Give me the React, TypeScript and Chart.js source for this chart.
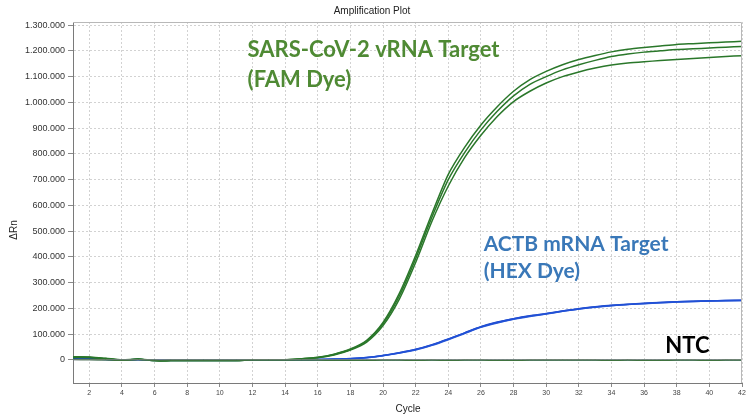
import React, { useEffect, useRef } from 'react';
import { Chart, registerables } from 'chart.js';

Chart.register(...registerables);

const cycles = [1, 2, 3, 4, 5, 6, 7, 8, 9, 10, 11, 12, 13, 14, 15, 16, 17, 18, 19, 20, 21, 22, 23, 24, 25, 26, 27, 28, 29, 30, 31, 32, 33, 34, 35, 36, 37, 38, 39, 40, 41, 42];

const famRep1 = [12000, 11000, 6000, 0, 3000, -3000, -3000, -3000, -3000, -3000, -3000, -1000, -1000, 0, 4000, 10000, 22000, 42000, 76000, 145000, 258000, 405000, 568000, 720000, 825000, 912000, 983000, 1043000, 1088000, 1120000, 1146000, 1166000, 1182000, 1196000, 1206000, 1213000, 1219000, 1225000, 1228000, 1231000, 1234000, 1237000];
const famRep2 = [11000, 10000, 5000, -1000, 2000, -3000, -3000, -3000, -3000, -3000, -3000, -1000, -1000, 0, 4000, 9000, 21000, 40000, 73000, 140000, 248000, 393000, 555000, 700000, 805000, 893000, 965000, 1025000, 1070000, 1100000, 1126000, 1146000, 1163000, 1178000, 1188000, 1195000, 1200000, 1205000, 1208000, 1211000, 1214000, 1217000];
const famRep3 = [10000, 9000, 4000, -1000, 2000, -3000, -3000, -3000, -3000, -3000, -3000, -1000, -1000, 0, 3000, 8000, 19000, 38000, 69000, 133000, 236000, 378000, 538000, 675000, 785000, 872000, 945000, 1003000, 1043000, 1075000, 1100000, 1118000, 1133000, 1145000, 1153000, 1158000, 1162000, 1166000, 1170000, 1174000, 1178000, 1181000];

const hexRep1 = [4000, 4000, 2000, 0, 1000, -2000, -2000, -2000, -2000, -2000, -2000, -1000, -1000, -1000, 0, 1000, 2000, 4000, 9000, 17000, 27000, 40000, 58000, 80000, 104000, 128000, 145000, 159000, 170000, 179000, 189000, 198000, 205000, 211000, 215000, 219000, 222000, 225000, 227000, 229000, 230000, 231000];
const hexRep2 = [3000, 3000, 1000, -1000, 0, -2000, -2000, -2000, -2000, -2000, -2000, -1000, -1000, -1000, 0, 1000, 2000, 4000, 8000, 16000, 26000, 38000, 56000, 78000, 102000, 126000, 143000, 157000, 168000, 178000, 188000, 197000, 204000, 210000, 215000, 218000, 221000, 224000, 226000, 228000, 229000, 230000];
const hexRep3 = [5000, 4000, 2000, 0, 1000, -1000, -2000, -2000, -2000, -2000, -2000, -1000, -1000, 0, 0, 1000, 3000, 5000, 9000, 17000, 28000, 41000, 59000, 81000, 105000, 129000, 147000, 160000, 171000, 180000, 190000, 199000, 206000, 212000, 216000, 220000, 223000, 226000, 228000, 229000, 231000, 232000];

const ntcFam = [2000, 1000, 0, -2000, 1000, -2000, -2000, -2000, -2000, -2000, -2000, -1000, -1000, -1000, -1000, -1000, -2000, -2000, -2000, -1000, -1000, -2000, -1000, -2000, -1000, -1000, -2000, -2000, -1000, -1000, -1000, -1000, -1000, -2000, -1000, -2000, -2000, -1000, -1000, -2000, -1000, -1000];
const ntcHex = [1000, 1000, 0, -1000, 0, -1000, -1000, -1000, -1000, -1000, -1000, -1000, -1000, -1000, -1000, -1000, -1000, -1000, -1000, -1000, -1000, -1000, -1000, -1000, -1000, -1000, -1000, -1000, -1000, -1000, -1000, -1000, -1000, -1000, -1000, -1000, -1000, -1000, -1000, -1000, -1000, -1000];
const threshold = [0, 0, 0, 0, 0, 0, 0, 0, 0, 0, 0, 0, 0, 0, 0, 0, 0, 0, 0, 0, 0, 0, 0, 0, 0, 0, 0, 0, 0, 0, 0, 0, 0, 0, 0, 0, 0, 0, 0, 0, 0, 0];

const xTickValues = [2, 4, 6, 8, 10, 12, 14, 16, 18, 20, 22, 24, 26, 28, 30, 32, 34, 36, 38, 40, 42];
const yTickValues = [0, 100000, 200000, 300000, 400000, 500000, 600000, 700000, 800000, 900000, 1000000, 1100000, 1200000, 1300000];

const chartTitle = 'Amplification Plot';
const xTitle = 'Cycle';
const yTitle = 'ΔRn';

const famLabelLines = ['SARS-CoV-2 vRNA Target', '(FAM Dye)'];
const hexLabelLines = ['ACTB mRNA Target', '(HEX Dye)'];
const ntcLabel = 'NTC';

const fmt = (v: number) => {
  const s = Math.abs(v).toString().replace(/\B(?=(\d{3})+(?!\d))/g, '.');
  return v < 0 ? '-' + s : s;
};

const GREEN = '#2a772a';
const BLUE = '#2150d6';

export default function App() {
  const ref = useRef<HTMLCanvasElement | null>(null);
  useEffect(() => {
    if (!ref.current) return;
    const toPts = (arr: number[]) => cycles.map((c, i) => ({ x: c, y: arr[i] }));
    const line = (data: number[], color: string, width: number) => ({
      data: toPts(data),
      borderColor: color,
      borderWidth: width,
      pointRadius: 0,
      tension: 0.25,
      fill: false,
    });

    const overlay = {
      id: 'overlay',
      afterDraw(chart: any) {
        const { ctx, chartArea: a, scales } = chart;
        const xs = scales.x;
        const ys = scales.y;
        ctx.save();
        // frame
        ctx.lineWidth = 1;
        ctx.strokeStyle = '#b8b8b8';
        ctx.beginPath();
        ctx.moveTo(a.left, a.top + 0.5);
        ctx.lineTo(a.right - 0.5, a.top + 0.5);
        ctx.lineTo(a.right - 0.5, a.bottom);
        ctx.stroke();
        // titles
        ctx.fillStyle = '#222';
        ctx.font = '10px "Liberation Sans", Arial, sans-serif';
        ctx.textAlign = 'center';
        ctx.textBaseline = 'middle';
        ctx.fillText(chartTitle, 372, 11);
        ctx.fillText(xTitle, 408, 409);
        ctx.save();
        ctx.translate(14, 230);
        ctx.rotate(-Math.PI / 2);
        ctx.fillText(yTitle, 0, 0);
        ctx.restore();
        // annotations
        ctx.textAlign = 'left';
        ctx.textBaseline = 'alphabetic';
        ctx.font = 'bold 22px Lato, "Open Sans", sans-serif';
        ctx.fillStyle = '#4f8a34';
        ctx.fillText(famLabelLines[0], xs.getPixelForValue(11.7), ys.getPixelForValue(1176000));
        ctx.fillText(famLabelLines[1], xs.getPixelForValue(11.7), ys.getPixelForValue(1059000));
        ctx.font = 'bold 21px Lato, "Open Sans", sans-serif';
        ctx.fillStyle = '#3a78b8';
        ctx.fillText(hexLabelLines[0], xs.getPixelForValue(26.17), ys.getPixelForValue(424000));
        ctx.fillText(hexLabelLines[1], xs.getPixelForValue(26.17), ys.getPixelForValue(318000));
        ctx.fillStyle = '#000';
        ctx.font = 'bold 22px Lato, "Open Sans", sans-serif';
        ctx.fillText(ntcLabel, xs.getPixelForValue(37.3), ys.getPixelForValue(28000));
        ctx.restore();
      },
    };

    const chart = new Chart(ref.current, {
      type: 'line',
      data: {
        datasets: [
          { ...line(threshold, '#8a8a8a', 1), tension: 0 },
          line(ntcFam, '#1e6a1e', 1.5),
          line(ntcHex, '#2a4fc0', 1),
          line(famRep1, GREEN, 1.5),
          line(famRep2, GREEN, 1.5),
          line(famRep3, GREEN, 1.5),
          line(hexRep1, BLUE, 1.6),
          line(hexRep2, '#3060d8', 1.4),
          line(hexRep3, '#1a44c8', 1.4),
        ],
      },
      plugins: [overlay],
      options: {
        responsive: false,
        animation: false,
        events: [],
        layout: { padding: { top: 22, right: 6, left: 0, bottom: 0 } },
        plugins: { legend: { display: false }, tooltip: { enabled: false }, title: { display: false } },
        scales: {
          x: {
            type: 'linear',
            min: 1,
            max: 42,
            afterBuildTicks: (s: any) => { s.ticks = xTickValues.map((v) => ({ value: v })); },
            afterFit: (s: any) => { s.height = 34; },
            ticks: {
              font: { size: 7, family: '"Liberation Sans", Arial, sans-serif' },
              color: '#444',
              padding: 2,
              maxRotation: 0,
              autoSkip: false,
            },
            grid: { color: '#d2d2d2', tickColor: '#8a8a8a', tickLength: 4, lineWidth: 1 },
            border: { display: true, color: '#7a7a7a', width: 1, dash: [2, 2] },
          },
          y: {
            type: 'linear',
            min: -90000,
            max: 1312000,
            afterBuildTicks: (s: any) => { s.ticks = yTickValues.map((v) => ({ value: v })); },
            afterFit: (s: any) => { s.width = 73; },
            ticks: {
              font: { size: 9, family: '"Liberation Sans", Arial, sans-serif' },
              color: '#333',
              padding: 3,
              callback: (v: any) => fmt(Number(v)),
            },
            grid: { color: '#d2d2d2', tickColor: '#8a8a8a', tickLength: 5, lineWidth: 1 },
            border: { display: true, color: '#7a7a7a', width: 1, dash: [2, 2] },
          },
        },
      },
    });
    return () => chart.destroy();
  }, []);

  return (
    <div style={{ position: 'fixed', left: 0, top: 0, width: 748, height: 417, background: '#fff' }}>
      <canvas ref={ref} width={748} height={417} style={{ display: 'block' }} />
    </div>
  );
}
